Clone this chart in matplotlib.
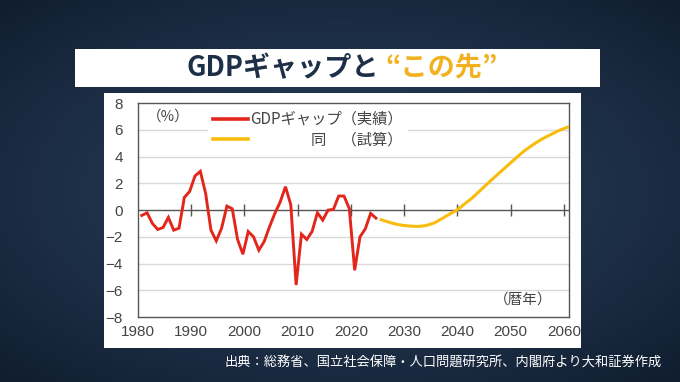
import numpy as np
import matplotlib
matplotlib.use("Agg")
import matplotlib.pyplot as plt
from matplotlib.patches import Rectangle
from matplotlib.lines import Line2D

plt.rcParams['font.family'] = ['Noto Sans CJK JP', 'DejaVu Sans']

# GDP gap, actual (calendar years 1980-2024), %
actual_years = list(range(1980, 2025))
actual_gap = [-0.4, -0.2, -1.0, -1.45, -1.3, -0.55, -1.5, -1.35, 0.95, 1.4,
              2.55, 2.9, 1.25, -1.5, -2.3, -1.35, 0.3, 0.1, -2.2, -3.3,
              -1.6, -2.0, -3.0, -2.35, -1.25, -0.25, 0.6, 1.75, 0.4, -5.6,
              -1.8, -2.2, -1.6, -0.2, -0.75, 0.0, 0.05, 1.05, 1.05, 0.1,
              -4.5, -2.0, -1.4, -0.25, -0.6]

# GDP gap, estimate (2025-2060), %
est_years = list(range(2025, 2061))
est_gap = [-0.72, -0.85, -0.97, -1.07, -1.14, -1.18, -1.21, -1.22, -1.18, -1.09,
           -0.95, -0.73, -0.5, -0.26, -0.05, 0.25, 0.57, 0.88, 1.25, 1.62,
           2.0, 2.36, 2.72, 3.07, 3.43, 3.78, 4.14, 4.47, 4.75, 5.02,
           5.27, 5.48, 5.68, 5.88, 6.05, 6.2]

x_ticks = list(range(1980, 2061, 10))
y_ticks = list(range(-8, 9, 2))

title_main = "GDPギャップと"
title_accent = "“この先”"
source = "出典：総務省、国立社会保障・人口問題研究所、内閣府より大和証券作成"

navy = "#1d3048"
gold = "#f2b120"
red = "#e3261c"
yellow = "#f7bc0c"

fig = plt.figure(figsize=(6.8, 3.82), dpi=100)

# background with a soft vignette
bg = fig.add_axes([0, 0, 1, 1])
yy, xx = np.mgrid[-1:1:200j, -1:1:360j]
r = np.clip(np.sqrt(xx ** 2 * 0.8 + yy ** 2 * 0.9), 0, 1.3) / 1.3
c0 = np.array([0x27, 0x3d, 0x59]) / 255
c1 = np.array([0x10, 0x1d, 0x2f]) / 255
img = c0 + (c1 - c0) * r[..., None] ** 1.4
bg.imshow(img, aspect='auto', extent=[0, 1, 0, 1])
bg.set_xlim(0, 1)
bg.set_ylim(0, 1)
bg.axis('off')

# title bar
bg.add_patch(Rectangle((0.110, 0.772), 0.772, 0.100, facecolor='white', edgecolor='none'))
t1 = bg.text(0.558, 0.822, title_main, ha='right', va='center', fontsize=19.5,
             fontweight='bold', color=navy)
bg.annotate(title_accent, xy=(1, 0), xycoords=t1, xytext=(4, 0),
            textcoords='offset points', ha='left', va='bottom', fontsize=19.5,
            fontweight='bold', color=gold)

# white chart panel
bg.add_patch(Rectangle((0.1534, 0.0898), 0.7006, 0.6675, facecolor='white', edgecolor='none'))

bg.text(0.973, 0.050, source, ha='right', va='center', fontsize=9.5, color='white')

ax = fig.add_axes([0.203, 0.170, 0.634, 0.560])
ax.set_facecolor('white')
ax.set_xlim(1980, 2061)
ax.set_ylim(-8, 8)

for v in y_ticks:
    if v not in (-8, 0, 8):
        ax.axhline(v, color='#d9d9d9', lw=1.0, zorder=1)
ax.axhline(0, color='#555555', lw=1.0, zorder=2)
ax.plot(x_ticks[1:], [0] * len(x_ticks[1:]), ls='none', marker='|',
        ms=8, mew=1.0, color='#555555', zorder=2)

offset = 0.7
ax.plot([y + offset for y in actual_years], actual_gap, color=red, lw=2.1,
        zorder=3, solid_joinstyle='miter')
ax.plot([y + offset for y in est_years], est_gap, color=yellow, lw=2.2, zorder=3)

ax.set_xticks(x_ticks)
ax.set_yticks(y_ticks)
ax.tick_params(axis='both', length=0, labelsize=11, labelcolor='#444444')
ax.tick_params(axis='x', pad=6)
ax.tick_params(axis='y', pad=11)
for lab in ax.get_xticklabels() + ax.get_yticklabels():
    lab.set_family('Liberation Sans')

for s in ax.spines.values():
    s.set_color('#555555')
    s.set_linewidth(1.0)

handles = [Line2D([], [], color=red, lw=2.6), Line2D([], [], color=yellow, lw=2.6)]
labels = ["GDPギャップ（実績）", "　　　　同　（試算）"]
leg = ax.legend(handles, labels, loc='upper left', bbox_to_anchor=(0.163, 0.985),
                frameon=True, facecolor='white', edgecolor='none', framealpha=1,
                fontsize=11, handlelength=2.3, handletextpad=0.15,
                labelspacing=0.25, borderpad=0.3, borderaxespad=0)
for t in leg.get_texts():
    t.set_color('#444444')
leg.set_zorder(4)

ax.text(0.02, 0.935, "（%）", transform=ax.transAxes, fontsize=10.5,
        color='#444444', ha='left', va='center')
ax.text(0.962, 0.08, "（暦年）", transform=ax.transAxes, fontsize=10.5,
        color='#444444', ha='right', va='center')

fig.savefig("out.png", dpi=100)
